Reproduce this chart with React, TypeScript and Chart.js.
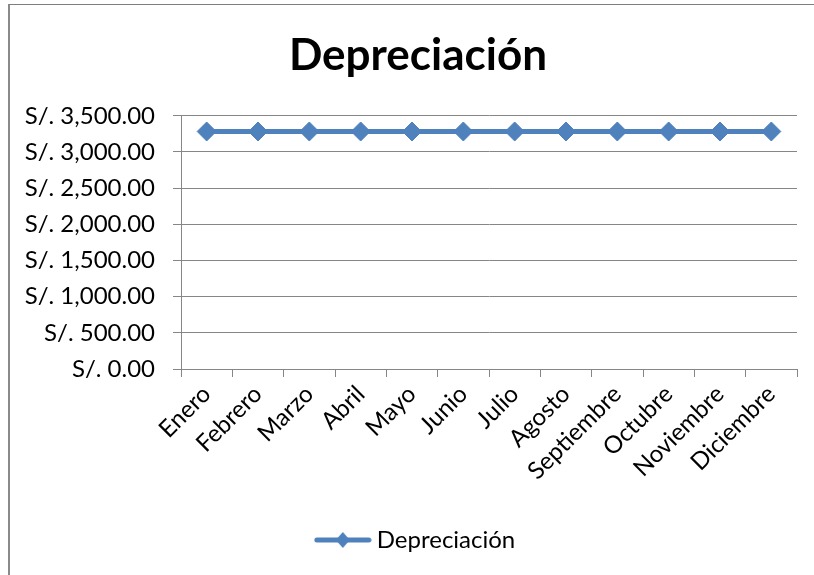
import React, { useEffect, useRef } from "react";
import { Chart, registerables } from "chart.js";

Chart.register(...registerables);

const titleText = "Depreciación";
const seriesLabel = "Depreciación";
const categories = [
  "Enero", "Febrero", "Marzo", "Abril", "Mayo", "Junio",
  "Julio", "Agosto", "Septiembre", "Octubre", "Noviembre", "Diciembre",
];
const depreciacion = [3283, 3283, 3283, 3283, 3283, 3283, 3283, 3283, 3283, 3283, 3283, 3283];
const yTickValues = [0, 500, 1000, 1500, 2000, 2500, 3000, 3500];
const currencyPrefix = "S/. ";

const BLUE = "#4F81BD";
const GRID = "#868686";
const FONT = "Lato, 'Open Sans', sans-serif";

function formatMoney(v: number): string {
  return currencyPrefix + v.toLocaleString("en-US", { minimumFractionDigits: 2, maximumFractionDigits: 2 });
}

function makeLegendMarker(): HTMLCanvasElement {
  const c = document.createElement("canvas");
  c.width = 58;
  c.height = 20;
  const ctx = c.getContext("2d")!;
  ctx.strokeStyle = BLUE;
  ctx.lineWidth = 5;
  ctx.lineCap = "round";
  ctx.beginPath();
  ctx.moveTo(3, 10);
  ctx.lineTo(55, 10);
  ctx.stroke();
  ctx.fillStyle = BLUE;
  ctx.beginPath();
  ctx.moveTo(29, 2);
  ctx.lineTo(36, 10);
  ctx.lineTo(29, 18);
  ctx.lineTo(22, 10);
  ctx.closePath();
  ctx.fill();
  return c;
}

export default function App() {
  const ref = useRef<HTMLCanvasElement | null>(null);

  useEffect(() => {
    if (!ref.current) return;
    const marker = makeLegendMarker();
    const chart = new Chart(ref.current, {
      type: "line",
      data: {
        labels: categories,
        datasets: [
          {
            label: seriesLabel,
            data: depreciacion,
            borderColor: BLUE,
            backgroundColor: BLUE,
            borderWidth: 5,
            pointStyle: "rectRot",
            pointRadius: 9.5,
            pointBorderWidth: 1,
            pointBackgroundColor: BLUE,
            pointBorderColor: BLUE,
            tension: 0,
            fill: false,
          },
        ],
      },
      options: {
        responsive: false,
        animation: false,
        layout: { padding: { left: 0, right: 0, top: 0, bottom: 13 } },
        plugins: {
          title: {
            display: true,
            text: titleText,
            color: "#000",
            font: { family: FONT, size: 44, weight: "bold", lineHeight: 1.2 },
            padding: { top: 29, bottom: 34 },
          },
          legend: {
            position: "bottom",
            labels: {
              usePointStyle: true,
              pointStyle: marker as any,
              pointStyleWidth: 44,
              color: "#000",
              font: { family: FONT, size: 24 },
              padding: 10,
            },
          },
          tooltip: { enabled: false },
        },
        scales: {
          x: {
            type: "category",
            offset: true,
            grid: {
              display: true,
              drawOnChartArea: false,
              drawTicks: true,
              tickLength: 8,
              color: GRID,
              offset: true,
            },
            border: { display: true, color: GRID, width: 1 },
            ticks: {
              minRotation: 45,
              maxRotation: 45,
              autoSkip: false,
              color: "#000",
              font: { family: FONT, size: 24 },
              padding: 3,
            },
            afterFit: (s: any) => {
              s.height = 149;
            },
          },
          y: {
            type: "linear",
            min: yTickValues[0],
            max: yTickValues[yTickValues.length - 1],
            afterBuildTicks: (s: any) => {
              s.ticks = yTickValues.map((v) => ({ value: v }));
            },
            grid: { color: GRID, tickLength: 8, lineWidth: 1 },
            border: { display: true, color: GRID, width: 1 },
            ticks: {
              color: "#000",
              font: { family: FONT, size: 24 },
              padding: 18,
              callback: (v: any) => formatMoney(Number(v)),
            },
            afterFit: (s: any) => {
              s.width = 173;
            },
          },
          yRightSpace: {
            type: "linear",
            position: "right",
            display: true,
            grid: { display: false, drawTicks: false },
            border: { display: false },
            ticks: { display: false },
            afterFit: (s: any) => {
              s.width = 31;
            },
          },
        },
      },
    });
    return () => chart.destroy();
  }, []);

  return (
    <div style={{ position: "absolute", left: 0, top: 0, width: 814, height: 575, overflow: "hidden", background: "#fff" }}>
      <div
        style={{
          position: "absolute",
          left: 8,
          top: 4,
          width: 900,
          height: 700,
          borderLeft: "2px solid #8a8a8a",
          borderTop: "1px solid #7f7f7f",
          boxSizing: "border-box",
        }}
      />
      <canvas
        ref={ref}
        width={820}
        height={575}
        style={{ position: "absolute", left: 8, top: 0, width: 820, height: 575 }}
      />
    </div>
  );
}
